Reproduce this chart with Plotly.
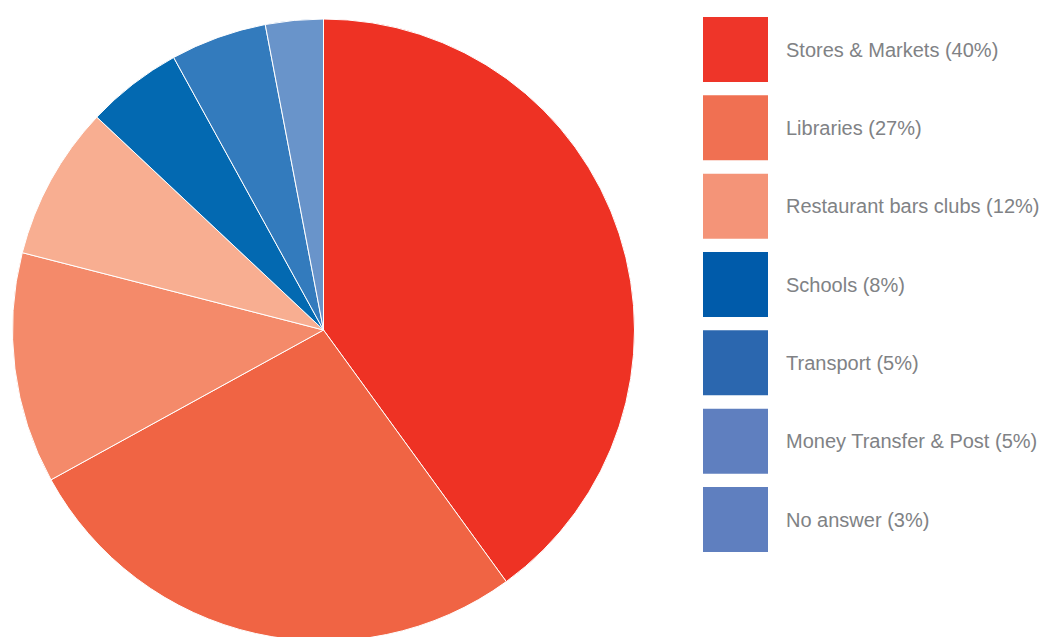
import plotly.graph_objects as go

# Data
labels = ['Stores & Markets', 'Libraries', 'Restaurant bars clubs', 'Schools',
          'Transport', 'Money Transfer & Post', 'No answer']
values = [40, 27, 12, 8, 5, 5, 3]

# slice colours (as drawn in the pie) and swatch colours (as drawn in the legend)
pie_colors = ['#EE3224', '#F06444', '#F48A6A', '#F8AE91', '#0369B1', '#337BBD', '#6994CA']
legend_colors = ['#EE3529', '#F07052', '#F49478', '#005BAA', '#2B67AF', '#5F7FBF', '#5F7FBF']

legend_text = [f'{lab} ({val}%)' for lab, val in zip(labels, values)]

W, H = 1057, 637
OFF = 8  # page body margin

fig = go.Figure()

fig.add_trace(go.Pie(
    labels=labels,
    values=values,
    sort=False,
    direction='clockwise',
    rotation=0,
    textinfo='none',
    hoverinfo='label+percent',
    marker=dict(colors=pie_colors, line=dict(color='white', width=1)),
    domain=dict(x=[(12.5 - OFF) / W, (634.5 - OFF) / W],
                y=[(H - 641 + OFF) / H, (H - 19 + OFF) / H]),
    showlegend=False,
))

# custom legend: big square swatches on a hidden axis
rows = list(range(len(labels)))
fig.add_trace(go.Scatter(
    x=[0.5] * len(rows),
    y=rows,
    mode='markers',
    marker=dict(symbol='square', size=65, color=legend_colors, line=dict(width=0)),
    xaxis='x', yaxis='y',
    hoverinfo='skip',
    showlegend=False,
    cliponaxis=False,
))

for i, txt in enumerate(legend_text):
    fig.add_annotation(
        x=1, y=i, xref='x', yref='y',
        text=txt, showarrow=False,
        xanchor='left', yanchor='middle', xshift=16,
        font=dict(family='Liberation Sans, Arial, sans-serif', size=20, color='#808285'),
    )

fig.update_layout(
    width=W,
    height=H,
    margin=dict(l=0, r=0, t=0, b=0),
    paper_bgcolor='white',
    plot_bgcolor='white',
    xaxis=dict(domain=[(703 - OFF) / W, (768 - OFF) / W], range=[0, 1],
               visible=False, fixedrange=True),
    yaxis=dict(domain=[0, 1], range=[7.602, -0.530], visible=False, fixedrange=True),
)

fig.write_html('out.html')
